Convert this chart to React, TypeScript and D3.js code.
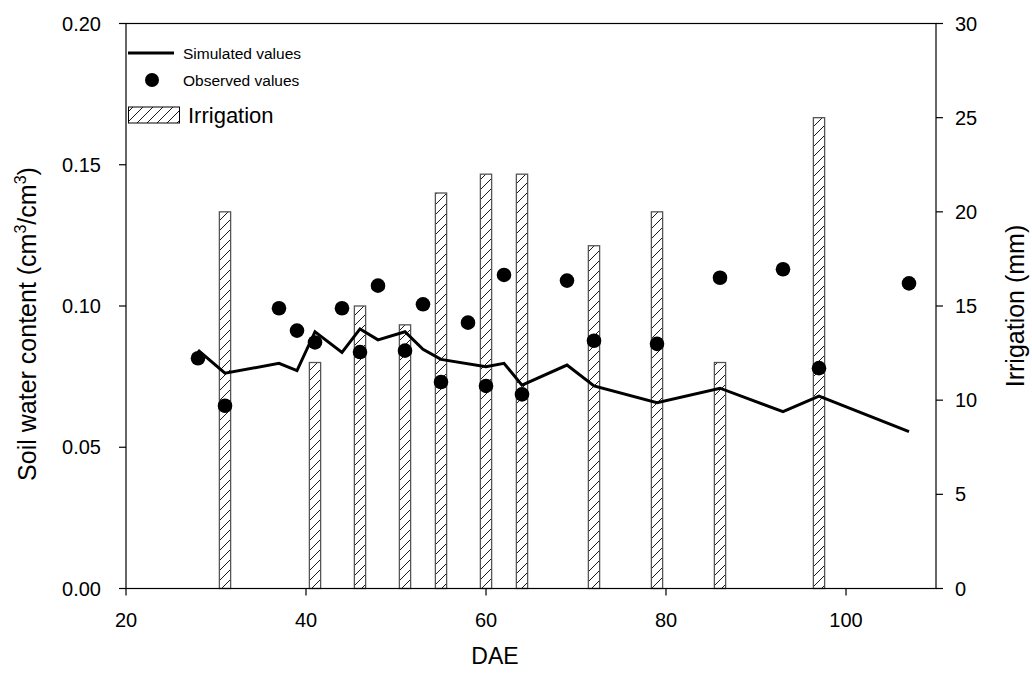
import React from 'react'
import * as d3 from 'd3'

// Simulated soil water content (line)
const simDae = [28, 31, 37, 39, 41, 44, 46, 48, 51, 53, 55, 60, 62, 64, 69, 72, 79, 86, 93, 97, 107]
const simValues = [0.0844, 0.0762, 0.0797, 0.0771, 0.0909, 0.0836, 0.0919, 0.088, 0.0909, 0.0847, 0.0811,
  0.0785, 0.0797, 0.072, 0.0791, 0.0717, 0.0658, 0.0709, 0.0626, 0.0681, 0.0555]

// Observed soil water content (dots)
const obsDae = [28, 31, 37, 39, 41, 44, 46, 48, 51, 53, 55, 58, 60, 62, 64, 69, 72, 79, 86, 93, 97, 107]
const obsValues = [0.0815, 0.0647, 0.0992, 0.0913, 0.0871, 0.0992, 0.0837, 0.1072, 0.0842, 0.1006, 0.0731,
  0.0941, 0.0717, 0.111, 0.0687, 0.109, 0.0877, 0.0866, 0.110, 0.113, 0.078, 0.108]

// Irrigation events (mm)
const irrDae = [31, 41, 46, 51, 55, 60, 64, 72, 79, 86, 97]
const irrAmounts = [20, 12, 15, 14, 21, 22, 22, 18.2, 20, 12, 25]

const xTicks = [20, 40, 60, 80, 100]
const leftTicks = [0, 0.05, 0.1, 0.15, 0.2]
const rightTicks = [0, 5, 10, 15, 20, 25, 30]

const FONT = '"Liberation Sans", Arial, sans-serif'

export default function App() {
  const left = 126, right = 936, top = 23.5, bottom = 588.5

  const x = d3.scaleLinear().domain([20, 110]).range([left, right])
  const yL = d3.scaleLinear().domain([0, 0.2]).range([bottom, top])
  const yR = d3.scaleLinear().domain([0, 30]).range([bottom, top])

  const barW = x(21.25) - x(20)

  const simLine = d3.line<number>()
    .x((d, i) => x(simDae[i]))
    .y(d => yL(d))

  return (
    <svg width={1032} height={677} style={{ position: 'absolute', left: 0, top: 0, background: '#fff' }}
      fontFamily={FONT}>
      <defs>
        <pattern id="hatch" patternUnits="userSpaceOnUse" width={10} height={10}>
          <path d="M-2,2 L2,-2 M0,10 L10,0 M8,12 L12,8" stroke="#000" strokeWidth={0.9} />
        </pattern>
      </defs>
      <rect width={1032} height={677} fill="#fff" />

      {/* irrigation bars */}
      <g>
        {irrDae.map((d, i) => (
          <rect key={i} x={x(d) - barW / 2} y={yR(irrAmounts[i])} width={barW}
            height={yR(0) - yR(irrAmounts[i])} fill="url(#hatch)" stroke="#555" strokeWidth={1.3} />
        ))}
      </g>

      {/* simulated line */}
      <path d={simLine(simValues) || ''} fill="none" stroke="#000" strokeWidth={3} strokeLinejoin="miter" />

      {/* observed points */}
      <g>
        {obsDae.map((d, i) => (
          <circle key={i} cx={x(d)} cy={yL(obsValues[i])} r={7.3} fill="#000" />
        ))}
      </g>

      {/* frame */}
      <rect x={left} y={top} width={right - left} height={bottom - top} fill="none" stroke="#000" strokeWidth={1.2} />

      {/* bottom axis */}
      <g fontSize={20} textAnchor="middle">
        {xTicks.map(t => (
          <g key={t}>
            <line x1={x(t)} x2={x(t)} y1={bottom} y2={bottom + 7} stroke="#000" strokeWidth={1.2} />
            <text x={x(t)} y={627}>{t}</text>
          </g>
        ))}
      </g>

      {/* left axis */}
      <g fontSize={20} textAnchor="end">
        {leftTicks.map(t => (
          <g key={t}>
            <line x1={left - 7} x2={left} y1={yL(t)} y2={yL(t)} stroke="#000" strokeWidth={1.2} />
            <text x={101} y={yL(t) + 7}>{t.toFixed(2)}</text>
          </g>
        ))}
      </g>

      {/* right axis */}
      <g fontSize={20} textAnchor="start">
        {rightTicks.map(t => (
          <g key={t}>
            <line x1={right} x2={right + 7} y1={yR(t)} y2={yR(t)} stroke="#000" strokeWidth={1.2} />
            <text x={955} y={yR(t) + 7}>{t}</text>
          </g>
        ))}
      </g>

      {/* axis titles */}
      <text x={495} y={664} fontSize={23} textAnchor="middle">DAE</text>
      <text transform="translate(36, 324) rotate(-90)" fontSize={25} textAnchor="middle">
        Soil water content (cm<tspan dy={-10} fontSize={16}>3</tspan><tspan dy={10}>/cm</tspan>
        <tspan dy={-10} fontSize={16}>3</tspan><tspan dy={10}>)</tspan>
      </text>
      <text transform="translate(1024, 306) rotate(-90)" fontSize={25} textAnchor="middle">
        Irrigation (mm)
      </text>

      {/* legend */}
      <g>
        <line x1={128} x2={174} y1={53} y2={53} stroke="#000" strokeWidth={3} />
        <text x={183} y={59} fontSize={15.5}>Simulated values</text>
        <circle cx={152} cy={80} r={7} fill="#000" />
        <text x={183} y={86} fontSize={15.5}>Observed values</text>
        <rect x={128.5} y={107} width={51} height={16} fill="url(#hatch)" stroke="#000" strokeWidth={1} />
        <text x={188} y={123} fontSize={22}>Irrigation</text>
      </g>
    </svg>
  )
}
